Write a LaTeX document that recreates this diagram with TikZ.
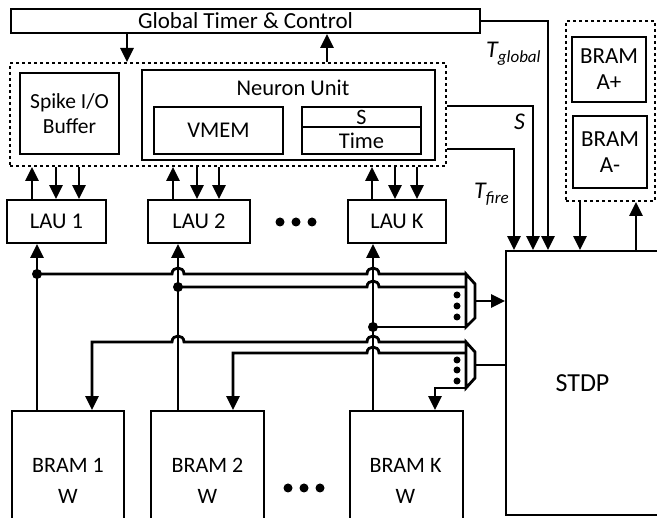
\documentclass[tikz,border=0pt]{standalone}
\usepackage{fontspec}
\setmainfont{Carlito}
\usetikzlibrary{arrows.meta,calc}
\begin{document}
\begin{tikzpicture}[x=1pt,y=-1pt,
  box/.style={draw,line width=1.7pt,inner sep=0pt,align=center,font=\fontsize{22.5}{26}\selectfont},
  dbox/.style={draw,line width=2pt,dash pattern=on 3pt off 3pt,inner sep=0pt},
  conn/.style={line width=2.8pt},
  arr/.style={conn,-{Triangle[length=14pt,width=13pt]}},
  bigdot/.style={circle,fill,inner sep=0pt,minimum size=9pt},
  smdot/.style={circle,fill,inner sep=0pt,minimum size=7pt},
  jdot/.style={circle,fill,inner sep=0pt,minimum size=10pt},
  lbl/.style={inner sep=0pt,align=center,font=\fontsize{22.5}{26}\selectfont},
]
\useasboundingbox (0,0) rectangle (657,518);

% boxes
\node[box,minimum width=469pt,minimum height=24pt,font=\fontsize{23}{26}\selectfont] (timer) at (245.5,21) {Global Timer \& Control};
\node[dbox,minimum width=436pt,minimum height=103pt] (core) at (228,114.5) {};
\node[box,minimum width=99pt,minimum height=81pt,font=\fontsize{21.5}{25}\selectfont] (spike) at (69.5,113.5) {Spike I/O\\Buffer};
\node[box,minimum width=293pt,minimum height=90pt] (neuron) at (288.5,115) {};
\node[lbl] (nlabel) at (293,88) {Neuron Unit};
\node[box,minimum width=129pt,minimum height=47pt] (vmem) at (218.5,130.5) {VMEM};
\node[box,minimum width=119pt,minimum height=20pt,font=\fontsize{22}{20}\selectfont] (sbox) at (361.5,117) {S};
\node[box,minimum width=119pt,minimum height=27pt] (timebox) at (361.5,140.5) {Time};

\node[box,minimum width=99pt,minimum height=43pt] (lau1) at (56.5,221.5) {LAU 1};
\node[box,minimum width=102pt,minimum height=43pt] (lau2) at (199,221.5) {LAU 2};
\node[box,minimum width=98pt,minimum height=43pt] (lauk) at (397,221.5) {LAU K};
\node[bigdot] (ld1) at (280,222) {};
\node[bigdot] (ld2) at (296,222) {};
\node[bigdot] (ld3) at (312,222) {};

\node[dbox,minimum width=89pt,minimum height=180pt] (bramd) at (610.5,111) {};
\node[box,minimum width=74pt,minimum height=65pt,font=\fontsize{23}{26}\selectfont] (brap) at (609,69.5) {BRAM\\A+};
\node[box,minimum width=74pt,minimum height=72pt,font=\fontsize{23}{26}\selectfont] (bram) at (610,152) {BRAM\\A-};

\node[box,minimum width=153pt,minimum height=264pt,font=\fontsize{26}{30}\selectfont] (stdp) at (582.5,383) {STDP};

\node[box,minimum width=112pt,minimum height=109pt] (bram1) at (68,465.5) {};
\node[box,minimum width=113pt,minimum height=109pt] (bram2) at (207.5,465.5) {};
\node[box,minimum width=113pt,minimum height=109pt] (bramk) at (406.5,465.5) {};
\node[lbl,font=\fontsize{22}{31}\selectfont] (b1t) at (68,481) {BRAM 1\\W};
\node[lbl,font=\fontsize{22}{31}\selectfont] (b2t) at (207.5,481) {BRAM 2\\W};
\node[lbl,font=\fontsize{22}{31}\selectfont] (bkt) at (405.5,481) {BRAM K\\W};
\node[bigdot] (bd1) at (288,488) {};
\node[bigdot] (bd2) at (304,488) {};
\node[bigdot] (bd3) at (320,488) {};

% timer <-> core
\draw[arr] (127,0 |- timer.south) -- (127,0 |- core.north);
\draw[arr] (327,0 |- core.north) -- (327,0 |- timer.south);

% core <-> LAUs
\foreach \u/\da/\db/\l in {32/56/79/lau1, 173/197/219/lau2, 372/395/417/lauk}{
  \draw[arr] (\u,0 |- \l.north) -- (\u,0 |- core.south);
  \draw[arr] (\da,0 |- core.south) -- (\da,0 |- \l.north);
  \draw[arr] (\db,0 |- core.south) -- (\db,0 |- \l.north);
}

% signals to STDP
\draw[arr] (timer.east) -- (548,21) -- (548,0 |- stdp.north);
\draw[arr] (core.east |- 0,106) -- (533,106) -- (533,0 |- stdp.north);
\draw[arr] (core.east |- 0,149) -- (514,149) -- (514,0 |- stdp.north);
\node[inner sep=0pt,anchor=base west] (tglob) at (486,58) {\fontsize{24}{24}\selectfont\itshape T\raisebox{-5pt}{\fontsize{17}{17}\selectfont global}};
\node[inner sep=0pt,anchor=base west] (slab) at (514,130) {\fontsize{24}{24}\selectfont\itshape S};
\node[inner sep=0pt,anchor=base west] (tfire) at (474,199) {\fontsize{24}{24}\selectfont\itshape T\raisebox{-5pt}{\fontsize{17}{17}\selectfont fire}};

% BRAM A <-> STDP
\draw[arr] (580,0 |- bramd.south) -- (580,0 |- stdp.north);
\draw[arr] (636,0 |- stdp.north) -- (636,0 |- bramd.south);

% mux 1
\coordinate (m1a) at (466,274);
\coordinate (m1b) at (475,284);
\coordinate (m1c) at (475,318);
\coordinate (m1d) at (466,327);
\draw[conn,line join=miter] (m1a) -- (m1b) -- (m1c) -- (m1d) -- cycle;
\node[smdot] (m1x) at (457,295) {};
\node[smdot] (m1y) at (457,306) {};
\node[smdot] (m1z) at (457,317) {};
\draw[arr] (475,301) -- (stdp.west |- 0,301);

% mux 2
\coordinate (m2a) at (466,342);
\coordinate (m2b) at (475,352);
\coordinate (m2c) at (475,378);
\coordinate (m2d) at (466,388);
\draw[conn,line join=miter] (m2a) -- (m2b) -- (m2c) -- (m2d) -- cycle;
\node[smdot] (m2x) at (457,360) {};
\node[smdot] (m2y) at (457,370) {};
\node[smdot] (m2z) at (457,381) {};
\draw[conn] (stdp.west |- 0,365) -- (475,365);

% bus verticals BRAM -> LAU
\draw[arr] (37,0 |- bram1.north) -- (37,0 |- lau1.south);
\draw[arr] (178,0 |- bram2.north) -- (178,0 |- lau2.south);
\draw[arr] (373,0 |- bramk.north) -- (373,0 |- lauk.south);
\node[jdot] (j1) at (37,274) {};
\node[jdot] (j2) at (178,287) {};
\node[jdot] (jk) at (373,327) {};

% read lines into mux 1
\draw[conn] (j1.center) -- (172,274) .. controls (172,266) and (184,266) .. (184,274)
  -- (367,274) .. controls (367,266) and (379,266) .. (379,274) -- (m1a);
\draw[conn] (j2.center) -- (367,287) .. controls (367,279) and (379,279) .. (379,287) -- (466,287);
\draw[conn] (jk.center) -- (m1d);

% write lines from mux 2
\draw[arr] (m2a) -- (379,342) .. controls (379,334) and (367,334) .. (367,342)
  -- (184,342) .. controls (184,334) and (172,334) .. (172,342) -- (92,342) -- (92,0 |- bram1.north);
\draw[arr] (466,353) -- (379,353) .. controls (379,345) and (367,345) .. (367,353)
  -- (233,353) -- (233,0 |- bram2.north);
\draw[arr] (m2d) -- (435,388) -- (435,0 |- bramk.north);
\end{tikzpicture}
\end{document}
